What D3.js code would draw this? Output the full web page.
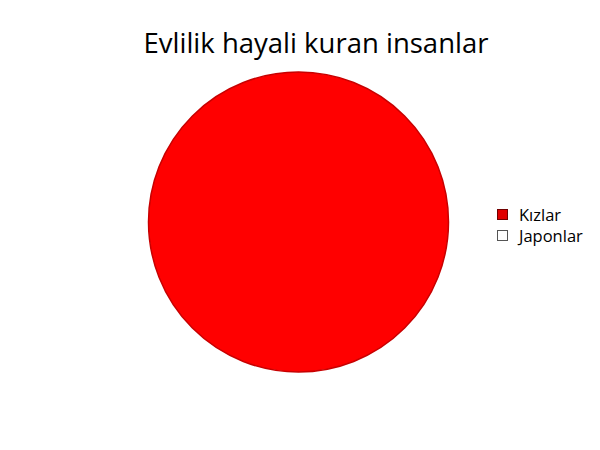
<!DOCTYPE html>
<html>
<head>
<meta charset="utf-8">
<script src="https://cdn.jsdelivr.net/npm/d3@7"></script>
<style>
  body { margin: 0; background: #fff; }
</style>
</head>
<body>
<div id="chart"></div>
<script>
const title = "Evlilik hayali kuran insanlar";
const categories = ["Kızlar", "Japonlar"];
const values = [100, 0];
const colors = ["#ff0000", "#ffffff"];

const svg = d3.select("#chart").append("svg")
  .attr("width", 600)
  .attr("height", 450);

svg.append("text")
  .attr("x", 316)
  .attr("y", 53)
  .attr("text-anchor", "middle")
  .style("font-family", "Open Sans, sans-serif")
  .style("font-size", "27.5px")
  .style("fill", "#000")
  .text(title);

const pie = d3.pie().sort(null).value(d => d);
const arc = d3.arc().innerRadius(0).outerRadius(150);

const g = svg.append("g")
  .attr("transform", "translate(298.5, 222)");

g.selectAll("path")
  .data(pie(values).filter(d => d.data > 0))
  .enter().append("path")
  .attr("d", arc)
  .style("fill", d => colors[d.index])
  .style("stroke", "#c80000")
  .style("stroke-width", 1.5);

const legend = svg.append("g")
  .attr("transform", "translate(497, 209)");

const item = legend.selectAll("g")
  .data(categories)
  .enter().append("g")
  .attr("transform", (d, i) => `translate(0, ${i * 21})`);

item.append("rect")
  .attr("x", 0.5)
  .attr("y", 0.5)
  .attr("width", 10)
  .attr("height", 10)
  .style("fill", (d, i) => i === 0 ? "#e00000" : "#fff")
  .style("stroke", (d, i) => i === 0 ? "#700000" : "#555")
  .style("stroke-width", 1);

item.append("text")
  .attr("x", 22)
  .attr("y", 11.5)
  .style("font-family", "Open Sans, sans-serif")
  .style("font-size", "16.5px")
  .style("fill", "#000")
  .text(d => d);
</script>
</body>
</html>
